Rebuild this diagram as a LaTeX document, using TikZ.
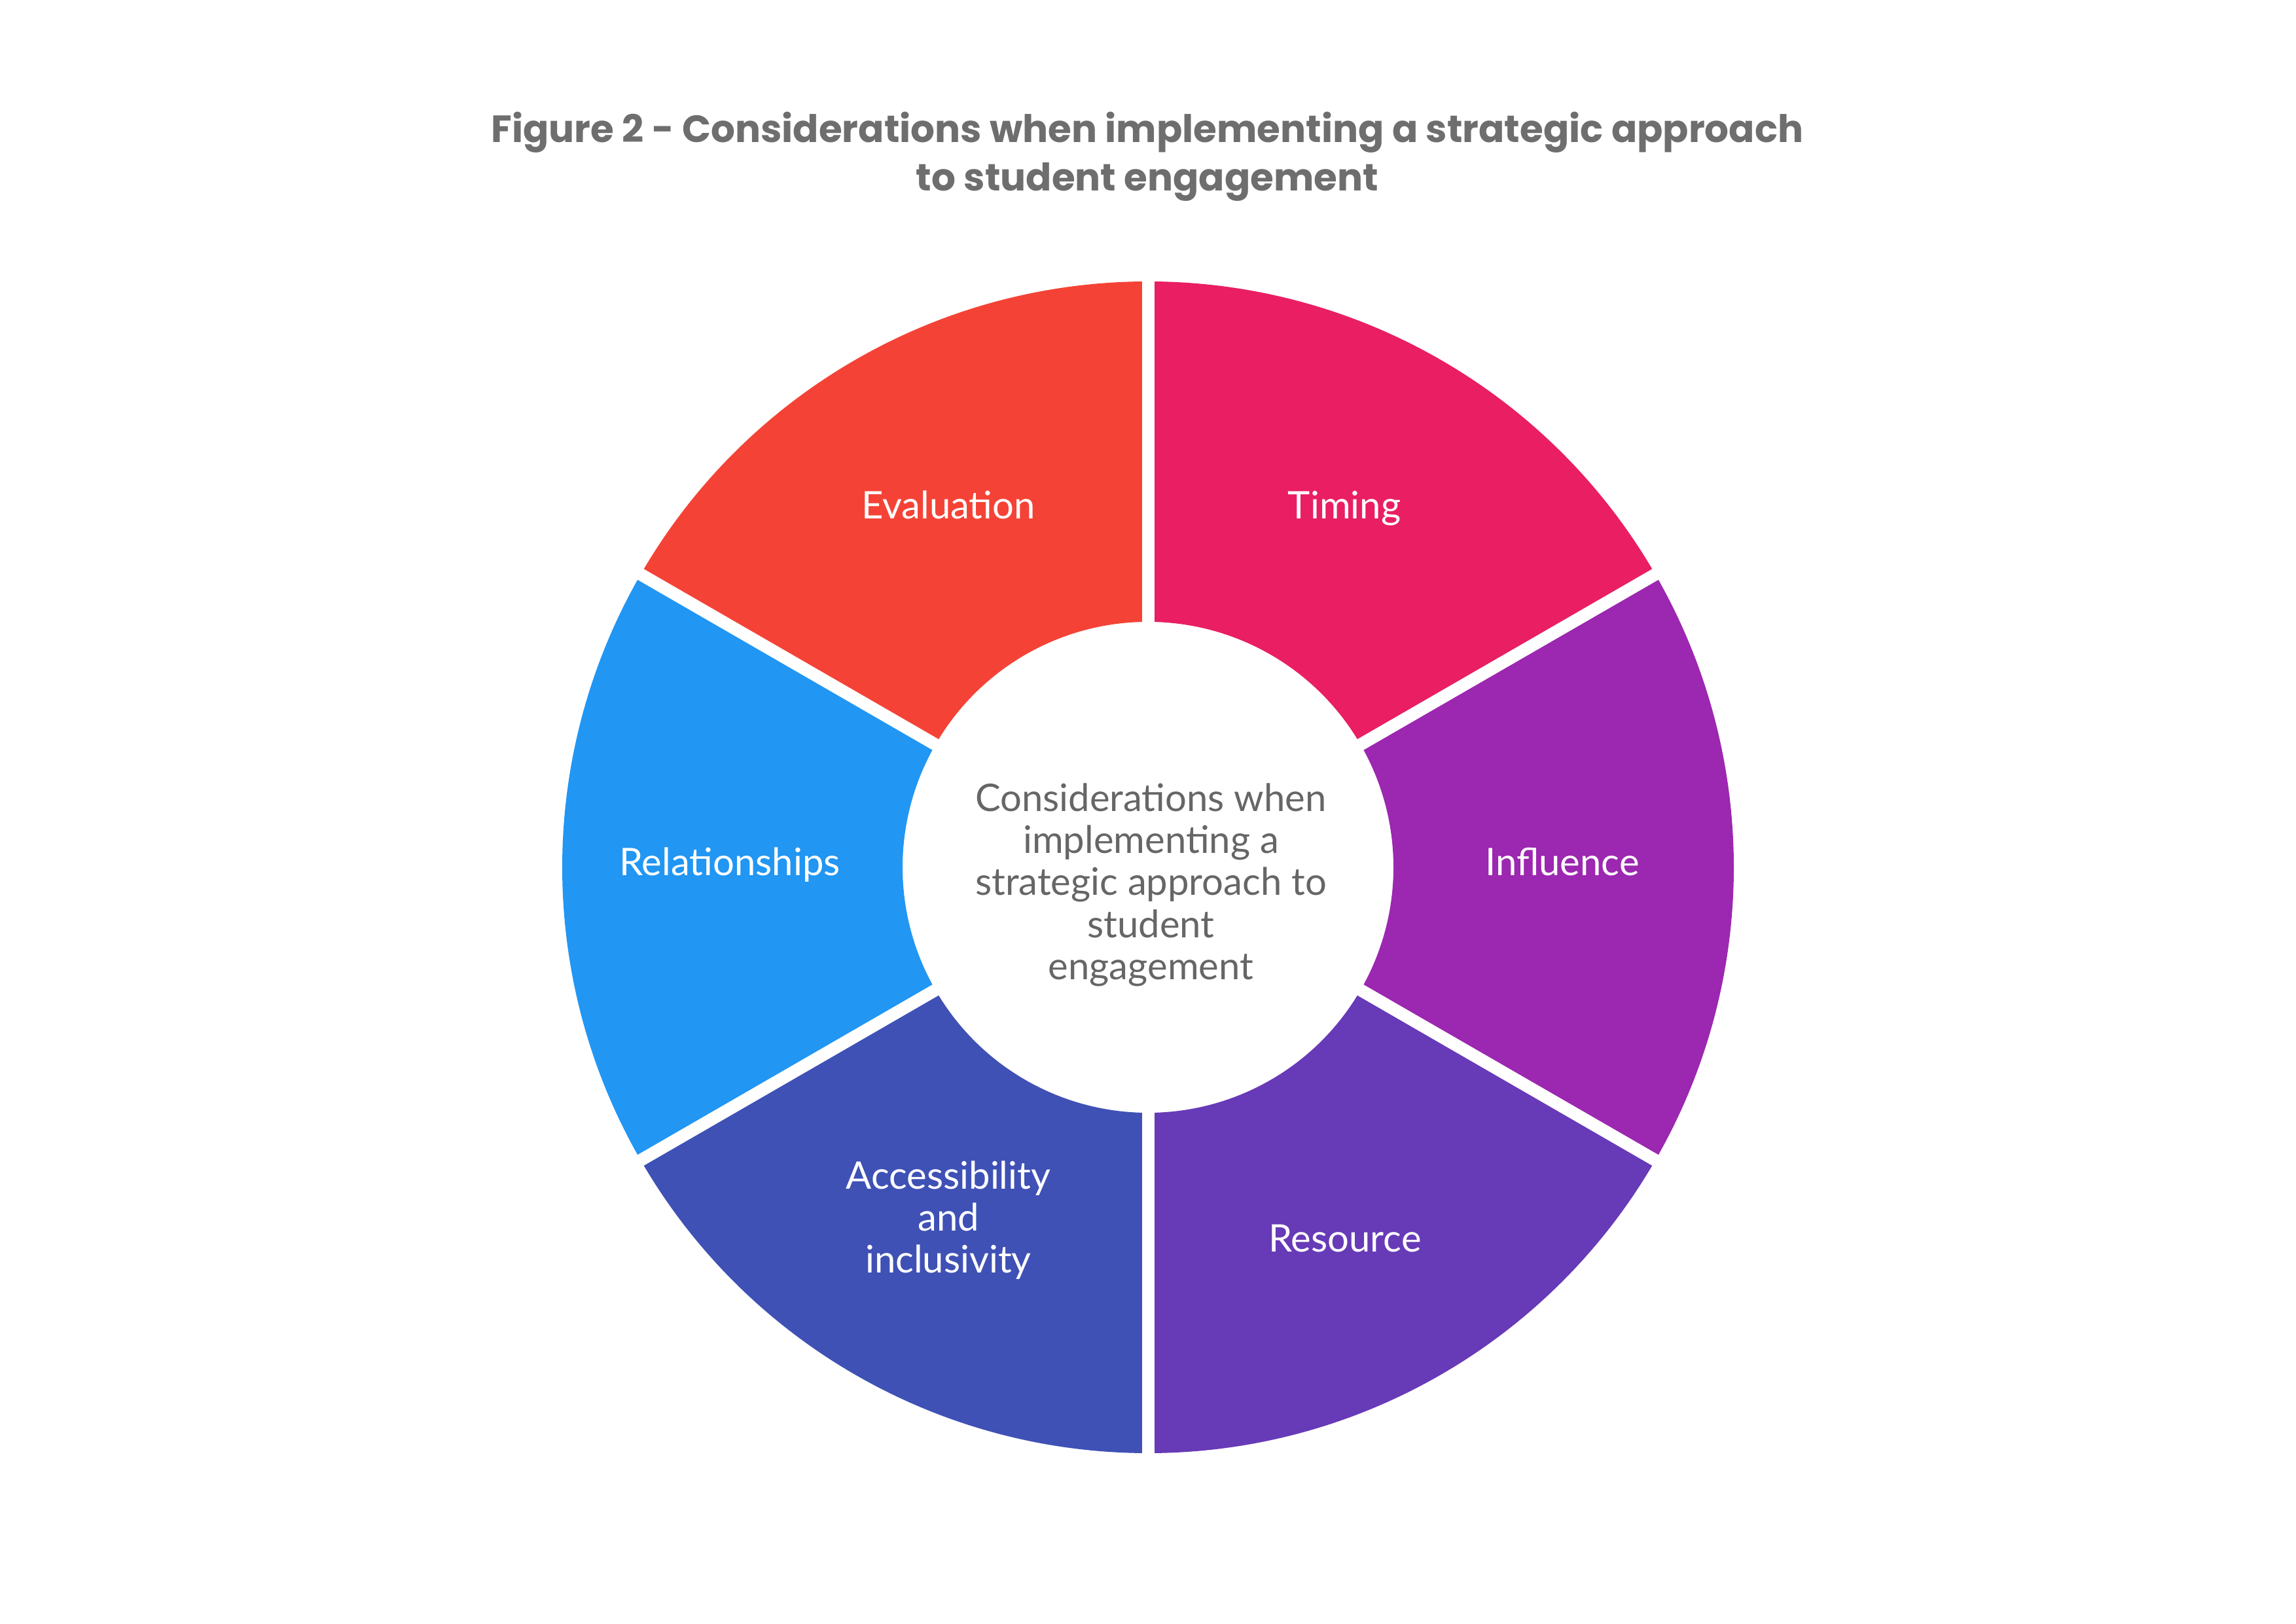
\documentclass[tikz,border=0pt]{standalone}
\usepackage{fontspec}
\setmainfont{Lato}
\newfontfamily\titlefont{Poppins}
\definecolor{cEval}{HTML}{F44336}
\definecolor{cTime}{HTML}{E91E63}
\definecolor{cInfl}{HTML}{9C27B0}
\definecolor{cRes}{HTML}{673AB7}
\definecolor{cAcc}{HTML}{3F51B5}
\definecolor{cRel}{HTML}{2196F3}
\definecolor{titlegray}{HTML}{6E6E6E}
\definecolor{centergray}{HTML}{666666}
\tikzset{
  seglabel/.style={text=white, align=center, anchor=base, inner sep=0pt,
    font=\fontsize{16.5}{18.35}\selectfont},
  gapline/.style={white, line width=5.4pt},
}
\begin{document}
\begin{tikzpicture}
\useasboundingbox (0,0) rectangle (35.08,24.80);
\fill[white] (0,0) rectangle (35.08,24.80);
\coordinate (c) at (17.54,11.55);
\foreach \a/\b/\col in {90/150/cEval, 30/90/cTime, -30/30/cInfl, -90/-30/cRes, -150/-90/cAcc, 150/210/cRel}{
  \fill[\col] ([shift={(\a:8.95)}]c) arc[start angle=\a, end angle=\b, radius=8.95cm]
     -- ([shift={(\b:3.75)}]c) arc[start angle=\b, end angle=\a, radius=3.75cm] -- cycle;
}
\foreach \a in {90,30,-30,-90,-150,150}{
  \draw[gapline] ([shift={(\a:3.6)}]c) -- ([shift={(\a:9.1)}]c);
}
\node[seglabel] (eval) at (14.49,16.87) {Evaluation};
\node[seglabel] (time) at (20.54,16.87) {Timing};
\node[seglabel] (rel) at (11.15,11.42) {Relationships};
\node[seglabel] (infl) at (23.87,11.42) {Influence};
\node[seglabel] (res) at (20.55,5.67) {Resource};
\node[seglabel] (acc) at (14.49,5.35) {Accessibility\\and\\inclusivity};
\node[seglabel, text=centergray] (center) at (17.585,9.83) {Considerations when\\implementing a\\strategic approach to\\student\\engagement};
\node[anchor=base, align=center, inner sep=0pt, text=titlegray,
  font=\titlefont\fontsize{16.5}{21.2}\selectfont\bfseries] (title) at (17.53,21.88)
  {Figure 2 - Considerations when implementing a strategic approach\\to student engagement};
\end{tikzpicture}
\end{document}
